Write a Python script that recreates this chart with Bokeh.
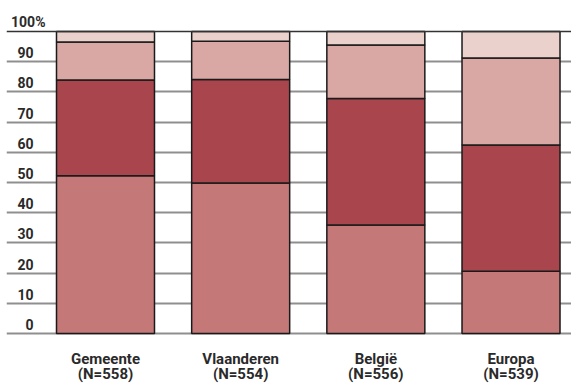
from bokeh.plotting import figure
from bokeh.models import ColumnDataSource, Range1d, FixedTicker, Span
from bokeh.core.properties import value
from bokeh.embed import file_html
from bokeh.resources import INLINE

categories = ["Gemeente", "Vlaanderen", "België", "Europa"]
counts = ["(N=558)", "(N=554)", "(N=556)", "(N=539)"]
s1 = [52.2, 49.8, 35.9, 20.6]
s2 = [31.7, 34.3, 41.9, 41.8]
s3 = [12.6, 12.7, 17.7, 28.8]
s4 = [3.5, 3.2, 4.5, 8.8]
tick_values = [0, 10, 20, 30, 40, 50, 60, 70, 80, 90]
tick_labels = ["0", "10", "20", "30", "40", "50", "60", "70", "80", "90"]
top_value = 100
top_label = "100%"

colors = ["#c47878", "#a8454d", "#d9a8a4", "#ebd1cc"]
FONT = "Roboto"
X0 = -0.7324

xs = list(range(len(categories)))
src = ColumnDataSource(dict(x=xs, s1=s1, s2=s2, s3=s3, s4=s4, cat=categories, n=counts,
                            y0=[0] * len(xs)))

p = figure(width=571, height=385, output_backend="svg", toolbar_location=None,
           x_range=Range1d(X0, 3.4475), y_range=Range1d(-17.22, 110.26),
           min_border=0, min_border_left=6, outline_line_color=None)
p.xaxis.visible = False
p.yaxis.visible = False
p.xgrid.grid_line_color = None
p.ygrid.ticker = FixedTicker(ticks=tick_values)
p.ygrid.grid_line_color = "#8f8f8f"
p.ygrid.grid_line_width = 1.8
p.add_layout(Span(location=top_value, dimension="width", line_color="#333333", line_width=1.3))

p.vbar_stack(["s1", "s2", "s3", "s4"], x="x", width=0.725, source=src,
             fill_color=colors, line_color="#1a1a1a", line_width=1.5)

tsrc = ColumnDataSource(dict(y=tick_values, t=tick_labels, x=[X0] * len(tick_values)))
p.text(x="x", y="y", text="t", source=tsrc, x_offset=27, y_offset=-9,
       text_align="right", text_baseline="alphabetic", text_font=value(FONT),
       text_font_style="bold", text_font_size="14px", text_color="#2a2a2a")
p.text(x=[X0], y=[top_value], text=[top_label], x_offset=39, y_offset=-9,
       text_align="right", text_baseline="alphabetic", text_font=value(FONT),
       text_font_style="bold", text_font_size="14px", text_color="#2a2a2a")

p.text(x="x", y="y0", text="cat", source=src, y_offset=26,
       text_align="center", text_baseline="alphabetic", text_font=value(FONT),
       text_font_style="bold", text_font_size="15px", text_color="#2a2a2a")
p.text(x="x", y="y0", text="n", source=src, y_offset=41,
       text_align="center", text_baseline="alphabetic", text_font=value(FONT),
       text_font_style="bold", text_font_size="15px", text_color="#2a2a2a")

open("out.html", "w").write(file_html(p, INLINE))
